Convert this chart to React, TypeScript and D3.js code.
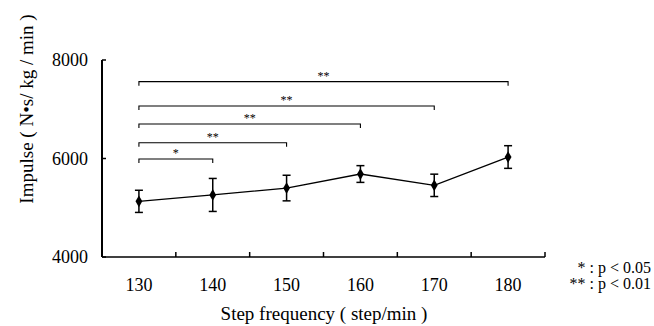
import * as d3 from "d3";

const steps = ["130", "140", "150", "160", "170", "180"];
const impulse = [5130, 5260, 5400, 5685, 5455, 6030];
const errors = [225, 335, 260, 170, 227, 230];
const yTicks = [4000, 6000, 8000];

// significance brackets: from step, to step, level, label
const bracketTo = ["140", "150", "160", "170", "180"];
const bracketLevel = [5990, 6320, 6700, 7065, 7560];
const bracketLabel = ["*", "**", "**", "**", "**"];
const legendLines = ["* : p < 0.05", "** : p < 0.01"];

const W = 654;
const H = 326;
const font = "'Liberation Serif', 'Times New Roman', serif";

const App = () => {
	const x = d3.scaleBand<string>().domain(steps).range([102, 545]);
	const y = d3.scaleLinear().domain([4000, 8000]).range([257, 60]);
	const cx = (s: string) => (x(s) ?? 0) + x.bandwidth() / 2;

	const line = d3
		.line<number>()
		.x((_d, i) => cx(steps[i]))
		.y((d) => y(d));

	const diamond = d3.symbol().type(d3.symbolDiamond).size(40)() ?? "";
	const boundaries = steps.slice(1).map((s) => x(s) ?? 0).concat([x.range()[1]]);

	return (
		<svg
			width={W}
			height={H}
			style={{ position: "absolute", left: 0, top: 0, background: "#fff" }}
			fontFamily={font}
			fill="#000"
		>
			{/* axes */}
			<line x1={102} x2={102} y1={y(8000)} y2={y(4000)} stroke="#000" strokeWidth={2} />
			<line x1={102} x2={x.range()[1]} y1={y(4000)} y2={y(4000)} stroke="#000" strokeWidth={1.6} />
			{yTicks.map((t) => (
				<g key={t}>
					<line x1={102} x2={106} y1={y(t)} y2={y(t)} stroke="#000" strokeWidth={1.5} />
					<text x={88} y={y(t) + 6} textAnchor="end" fontSize={18}>
						{t}
					</text>
				</g>
			))}
			{boundaries.map((b, i) => (
				<line key={i} x1={b} x2={b} y1={y(4000)} y2={y(4000) - 5} stroke="#000" strokeWidth={1.5} />
			))}
			{steps.map((s) => (
				<text key={s} x={cx(s)} y={291} textAnchor="middle" fontSize={18}>
					{s}
				</text>
			))}
			<text x={324} y={320} textAnchor="middle" fontSize={19}>
				Step frequency ( step/min )
			</text>
			<text
				transform={`translate(33, 109) rotate(-90)`}
				textAnchor="middle"
				fontSize={19}
			>
				Impulse ( N•s/ kg / min )
			</text>

			{/* brackets */}
			<g opacity={0.999}>
				{bracketTo.map((to, i) => {
					const x1 = cx(steps[0]);
					const x2 = cx(to);
					const yy = y(bracketLevel[i]);
					return (
						<g key={i}>
							<path
								d={`M${x1},${yy + 4}V${yy}H${x2}V${yy + 4}`}
								fill="none"
								stroke="#000"
								strokeWidth={1.1}
							/>
							<text x={(x1 + x2) / 2} y={yy - 2} textAnchor="middle" fontSize={12} fill="#000">
								{bracketLabel[i]}
							</text>
						</g>
					);
				})}
			</g>

			{/* data */}
			<path d={line(impulse) ?? ""} fill="none" stroke="#000" strokeWidth={1.3} />
			{impulse.map((v, i) => {
				const px = cx(steps[i]);
				const top = y(v + errors[i]);
				const bot = y(v - errors[i]);
				return (
					<g key={i}>
						<line x1={px} x2={px} y1={top} y2={bot} stroke="#000" strokeWidth={1.5} />
						<line x1={px - 4} x2={px + 4} y1={top} y2={top} stroke="#000" strokeWidth={1.5} />
						<line x1={px - 4} x2={px + 4} y1={bot} y2={bot} stroke="#000" strokeWidth={1.5} />
						<path d={diamond} transform={`translate(${px},${y(v)})`} fill="#000" />
					</g>
				);
			})}

			{/* legend */}
			<g opacity={0.999}>
				{legendLines.map((t, i) => (
					<text key={i} x={651} y={273 + i * 16} textAnchor="end" fontSize={16} fill="#000">
						{t}
					</text>
				))}
			</g>
		</svg>
	);
};

export default App;
